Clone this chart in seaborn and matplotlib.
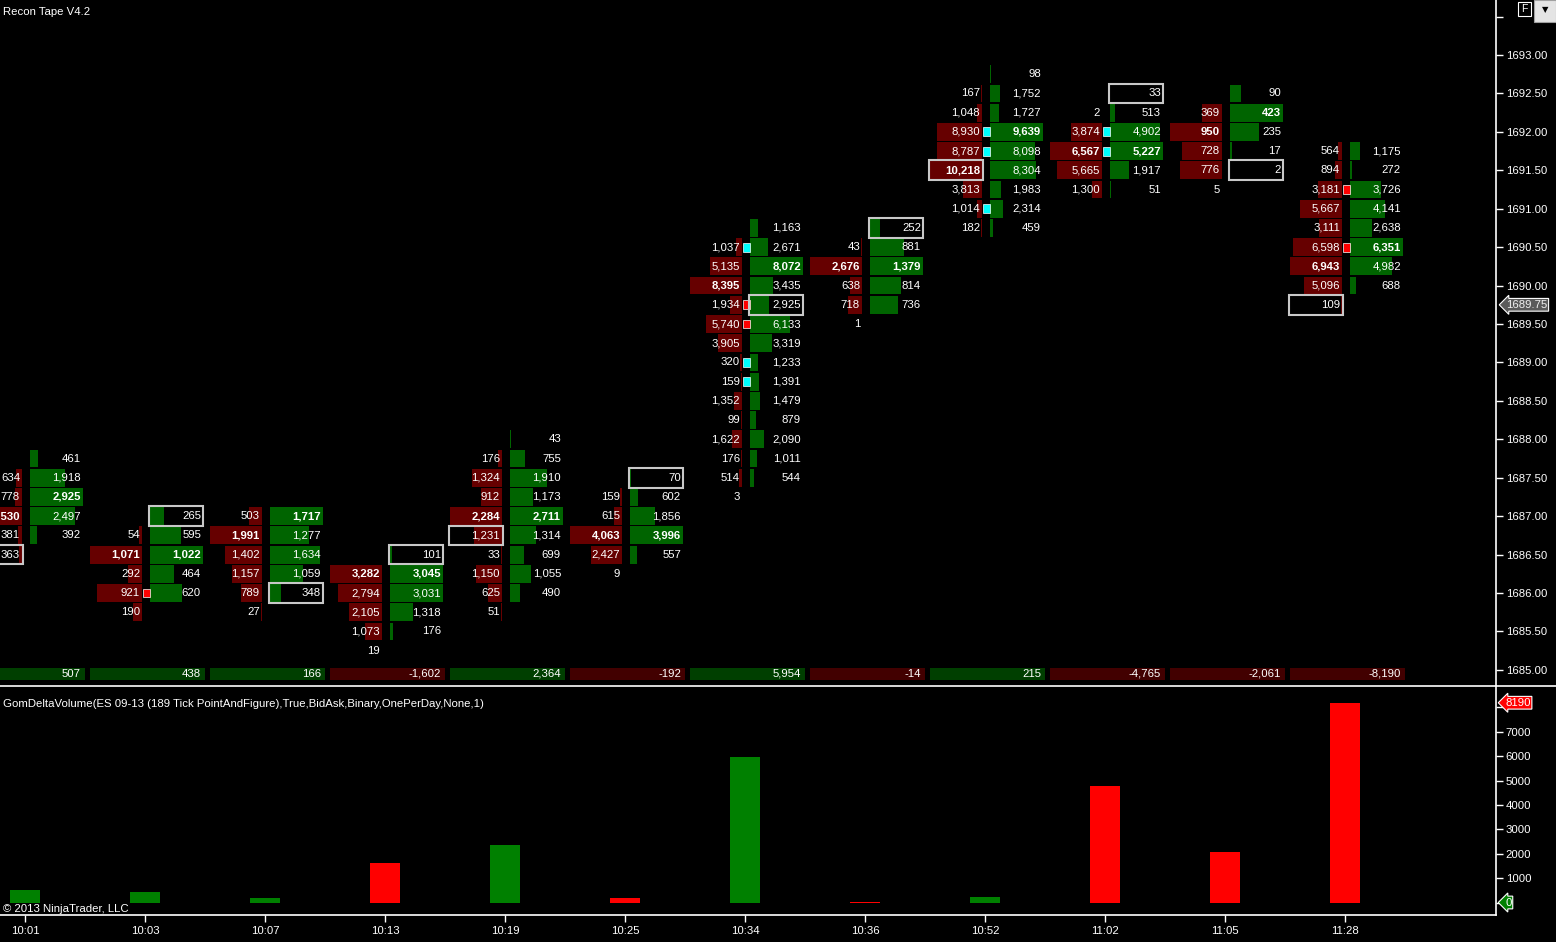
import numpy as np
import pandas as pd
import matplotlib
matplotlib.use("Agg")
import matplotlib.pyplot as plt
import matplotlib.transforms as mtransforms
from matplotlib.patches import Rectangle
import seaborn as sns

# --- data ---
times = ["10:01", "10:03", "10:07", "10:13", "10:19", "10:25",
         "10:34", "10:36", "10:52", "11:02", "11:05", "11:28"]
top_price = [1687.75, 1687.00, 1687.00, 1686.50, 1688.00, 1687.50,
             1690.75, 1690.75, 1692.75, 1692.50, 1692.50, 1691.75]
bid_vol = [
    [None, 634, 778, 5530, 381, 363],
    [None, 54, 1071, 292, 921, 190],
    [503, 1991, 1402, 1157, 789, 27],
    [None, 3282, 2794, 2105, 1073, 19],
    [None, 176, 1324, 912, 2284, 1231, 33, 1150, 625, 51],
    [None, 159, 615, 4063, 2427, 9],
    [None, 1037, 5135, 8395, 1934, 5740, 3905, 320, 159, 1352, 99, 1622, 176, 514, 3],
    [None, 43, 2676, 638, 718, 1],
    [None, 167, 1048, 8930, 8787, 10218, 3813, 1014, 182],
    [None, 2, 3874, 6567, 5665, 1300],
    [None, 369, 950, 728, 776, 5],
    [564, 894, 3181, 5667, 3111, 6598, 6943, 5096, 109],
]
ask_vol = [
    [461, 1918, 2925, 2497, 392, None],
    [265, 595, 1022, 464, 620, None],
    [1717, 1277, 1634, 1059, 348, None],
    [101, 3045, 3031, 1318, 176, None],
    [43, 755, 1910, 1173, 2711, 1314, 699, 1055, 490, None],
    [70, 602, 1856, 3996, 557, None],
    [1163, 2671, 8072, 3435, 2925, 6133, 3319, 1233, 1391, 1479, 879, 2090, 1011, 544, None],
    [252, 881, 1379, 814, 736, None],
    [98, 1752, 1727, 9639, 8098, 8304, 1983, 2314, 459],
    [33, 513, 4902, 5227, 1917, 51],
    [90, 423, 235, 17, 2, None],
    [1175, 272, 3726, 4141, 2638, 6351, 4982, 688, None],
]
bar_delta = [507, 438, 166, -1602, 2364, -192, 5954, -14, 215, -4765, -2061, -8190]
close_side = ["bid", "ask", "ask", "ask", "bid", "ask",
              "ask", "ask", "bid", "ask", "ask", "bid"]
close_price = [1686.50, 1687.00, 1686.00, 1686.50, 1686.75, 1687.50,
               1689.75, 1690.75, 1691.50, 1692.50, 1691.50, 1689.75]
imb_col = [1, 6, 6, 6, 6, 6, 8, 8, 8, 9, 9, 11, 11]
imb_price = [1686.00, 1690.50, 1689.75, 1689.50, 1689.00, 1688.75,
             1692.00, 1691.75, 1691.00, 1692.00, 1691.75, 1691.25, 1690.50]
imb_kind = ["sell", "buy", "sell", "sell", "buy", "buy",
            "buy", "buy", "buy", "buy", "buy", "sell", "sell"]
last_price = 1689.75
TICK = 0.25

# --- layout in pixels of the original screenshot ---
W, H = 1556, 942
PX = 1 / 120.0                      # one pixel in bar-index units
XMIN, XMAX = -25 * PX, (1496 - 25) * PX
ROW_H = 0.232

BID_C, ASK_C = "#660000", "#006400"
DPOS_C, DNEG_C = "#003f00", "#420000"
FG = "white"

sns.set_theme(style="dark")
plt.rcParams.update({
    "figure.facecolor": "black", "axes.facecolor": "black",
    "axes.edgecolor": FG, "axes.grid": False,
    "text.color": FG, "xtick.color": FG, "ytick.color": FG,
    "xtick.labelcolor": FG, "ytick.labelcolor": FG,
})
plt.rcParams["font.family"] = ["Liberation Sans", "DejaVu Sans"]
FS = 8.2


def fx(px):
    return px / W


def fy(py):
    return 1 - py / H


fig = plt.figure(figsize=(W / 100, H / 100), dpi=100)
ax = fig.add_axes([0, fy(686), fx(1496), fy(0) - fy(686)])
ax2 = fig.add_axes([0, fy(915), fx(1496), fy(687) - fy(915)])

# long-form table of footprint cells
rows = []
for i, (top, bids, asks) in enumerate(zip(top_price, bid_vol, ask_vol)):
    for k, (b, a) in enumerate(zip(bids, asks)):
        rows.append({"col": i, "price": top - TICK * k, "bid": b, "ask": a})
cells = pd.DataFrame(rows).astype({"bid": float, "ask": float})
cells["bid_max"] = cells.groupby("col")["bid"].transform("max")
cells["ask_max"] = cells.groupby("col")["ask"].transform("max")

b = cells.dropna(subset=["bid"])
bw = 52 * b["bid"] / b["bid_max"] * PX
ax.barh(b["price"], bw, left=b["col"] - 3 * PX - bw, height=ROW_H, color=BID_C, lw=0)
for _, r in b.iterrows():
    ax.text(r["col"] - 5 * PX, r["price"], f"{int(r['bid']):,}", ha="right", va="center",
            fontsize=FS, color=FG, fontweight="bold" if r["bid"] == r["bid_max"] else "normal")

a = cells.dropna(subset=["ask"])
aw = 53 * a["ask"] / a["ask_max"] * PX
ax.barh(a["price"], aw, left=a["col"] + 5 * PX, height=ROW_H, color=ASK_C, lw=0)
for _, r in a.iterrows():
    ax.text(r["col"] + 56 * PX, r["price"], f"{int(r['ask']):,}", ha="right", va="center",
            fontsize=FS, color=FG, fontweight="bold" if r["ask"] == r["ask_max"] else "normal")

# imbalance markers
for c, p, kind in zip(imb_col, imb_price, imb_kind):
    ax.add_patch(Rectangle((c - 2 * PX, p - 0.058), 7 * PX, 0.116,
                           fc="#00ffff" if kind == "buy" else "#ff0000",
                           ec="white", lw=0.5, zorder=4))

# close-price boxes
for c, (side, p) in enumerate(zip(close_side, close_price)):
    x0 = c + 4 * PX if side == "ask" else c - 56 * PX
    ax.add_patch(Rectangle((x0, p - 0.128), 54 * PX, 0.256, fill=False,
                           ec="#c8c8c8", lw=1.5, zorder=5))

# per-bar delta strip
idx = np.arange(len(times))
dcol = [DPOS_C if d > 0 else DNEG_C for d in bar_delta]
ax.bar(idx + 2.5 * PX, 0.155, bottom=1684.87, width=115 * PX, color=dcol, lw=0)
for i, d in enumerate(bar_delta):
    ax.text(i + 56 * PX, 1684.947, f"{d:,}", ha="right", va="center", fontsize=FS, color=FG)

ax.set_xlim(XMIN, XMAX)
ax.set_ylim(1693 - 631 / 76.86, 1693 + 55 / 76.86)
ax.set_xticks([])
yt = np.arange(1685.0, 1693.51, 0.5)
ax.set_yticks(yt)
ax.set_yticklabels([f"{v:.2f}" if v < 1693.4 else "" for v in yt])
ax.yaxis.tick_right()
ax.tick_params(axis="y", length=5, width=1, labelsize=FS, pad=2)
for s in ["top", "left"]:
    ax.spines[s].set_visible(False)
for s in ["right", "bottom"]:
    ax.spines[s].set_color(FG)
    ax.spines[s].set_linewidth(1.2)

# last price tag
tr = mtransforms.blended_transform_factory(ax.transAxes, ax.transData)
ax.text(1.0, last_price, "1689.75", transform=mtransforms.offset_copy(tr, fig=fig, x=10, units="dots"),
        ha="left", va="center", fontsize=FS, color="#f0f0f0", clip_on=False, zorder=6,
        bbox=dict(boxstyle="larrow,pad=0.12", fc="#5a5a5a", ec="white", lw=0.8))

# --- lower panel: delta volume ---
dv = pd.DataFrame({"time": times, "delta": bar_delta})
dv["size"] = dv["delta"].abs()
dv["side"] = np.where(dv["delta"] > 0, "up", "down")
sns.barplot(data=dv, x="time", y="size", hue="side", order=times,
            palette={"up": "#008000", "down": "#ff0000"}, dodge=False,
            width=0.25, saturation=1, legend=False, ax=ax2, linewidth=0)
ax2.set_xlim(XMIN, XMAX)
ax2.set_ylim(-(915 - 902.5) / 24.39 * 1000, (902.5 - 687) / 24.39 * 1000)
ax2.set_xlabel("")
ax2.set_ylabel("")
ax2.yaxis.tick_right()
ax2.set_yticks(np.arange(0, 8001, 1000))
ax2.set_yticklabels([""] + [str(v) for v in range(1000, 8000, 1000)] + [""])
ax2.tick_params(axis="y", length=5, width=1, labelsize=FS, pad=2)
ax2.tick_params(axis="x", length=5, width=1, labelsize=FS, pad=3, bottom=True)
for s in ["top", "left"]:
    ax2.spines[s].set_visible(False)
for s in ["right", "bottom"]:
    ax2.spines[s].set_color(FG)
    ax2.spines[s].set_linewidth(1.2)

tr2 = mtransforms.blended_transform_factory(ax2.transAxes, ax2.transData)
ax2.text(1.0, 8190, "8190", transform=mtransforms.offset_copy(tr2, fig=fig, x=9, units="dots"),
         ha="left", va="center", fontsize=FS, color="white", clip_on=False, zorder=6,
         bbox=dict(boxstyle="larrow,pad=0.12", fc="#ff0000", ec="white", lw=0.8))
ax2.text(1.0, 0, "0", transform=mtransforms.offset_copy(tr2, fig=fig, x=9, units="dots"),
         ha="left", va="center", fontsize=FS, color="white", clip_on=False, zorder=6,
         bbox=dict(boxstyle="larrow,pad=0.12", fc="#008000", ec="white", lw=0.8))

# --- window furniture ---
fig.add_artist(plt.Line2D([fx(1496), 1], [fy(686), fy(686)], color=FG, lw=1.2))
fig.text(fx(3), fy(12), "Recon Tape V4.2", fontsize=FS, va="center", color=FG)
fig.text(fx(3), fy(704), "GomDeltaVolume(ES 09-13 (189 Tick PointAndFigure),True,BidAsk,Binary,OnePerDay,None,1)",
         fontsize=FS, va="center", color=FG)
fig.text(fx(3), fy(909), "\u00a9 2013 NinjaTrader, LLC", fontsize=FS, va="center", color=FG)
fig.add_artist(Rectangle((fx(1518), fy(16)), fx(13), 14 / H, transform=fig.transFigure,
                         fc="black", ec="white", lw=0.8))
fig.text(fx(1524.5), fy(9), "F", fontsize=7.5, ha="center", va="center", color=FG)
fig.add_artist(Rectangle((fx(1534), fy(22)), fx(22), 22 / H, transform=fig.transFigure,
                         fc="#e4e4e4", ec="#a0a0a0", lw=0.8))
fig.text(fx(1545), fy(10), "\u25bc", fontsize=6, ha="center", va="center", color="black",
         family=["DejaVu Sans"])

fig.savefig("out.png", dpi=100, facecolor="black")
